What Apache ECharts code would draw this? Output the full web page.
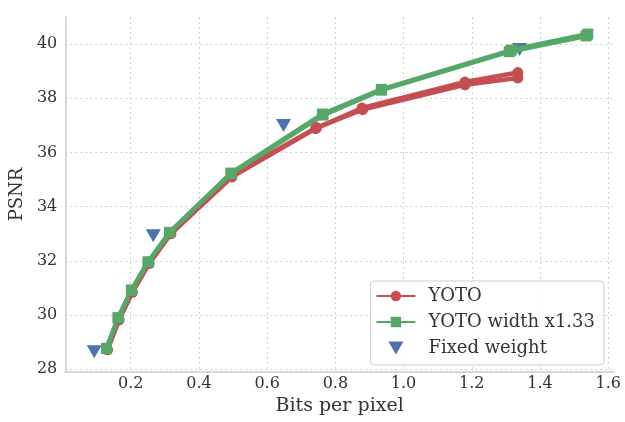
<!DOCTYPE html>
<html>
<head>
<meta charset="utf-8">
<title>PSNR vs bpp</title>
<script src="https://cdn.jsdelivr.net/npm/echarts@6/dist/echarts.min.js"></script>
<style>
    html, body { margin: 0; padding: 0; background: #fff; }
    #chart { width: 625px; height: 422px; }
</style>
</head>
<body>
<div id="chart"></div>
<script>
// 数据（从图上读出来的）
const yotoRunA = [[0.132, 28.72], [0.166, 29.82], [0.205, 30.84], [0.254, 31.9], [0.318, 33.0], [0.497, 35.1], [0.742, 36.88], [0.878, 37.64], [1.18, 38.6], [1.335, 38.95]];
const yotoRunB = [[0.13, 28.75], [0.164, 29.85], [0.203, 30.86], [0.252, 31.93], [0.316, 33.02], [0.495, 35.14], [0.745, 36.92], [0.88, 37.58], [1.18, 38.5], [1.335, 38.75]];
const wideRunA = [[0.129, 28.77], [0.163, 29.9], [0.202, 30.92], [0.251, 31.96], [0.314, 33.05], [0.494, 35.24], [0.762, 37.42], [0.935, 38.33], [1.316, 39.78], [1.54, 40.37]];
const wideRunB = [[0.129, 28.77], [0.163, 29.9], [0.202, 30.92], [0.251, 31.96], [0.314, 33.05], [0.494, 35.22], [0.764, 37.38], [0.935, 38.3], [1.31, 39.72], [1.535, 40.3]];
const fixedWeight = [[0.093, 28.65], [0.266, 32.93], [0.648, 37.0], [1.34, 39.8]];

const xTicks = [0.2, 0.4, 0.6, 0.8, 1.0, 1.2, 1.4, 1.6];
const yTicks = [28, 30, 32, 34, 36, 38, 40];

const RED = '#C44E52';
const GREEN = '#55A868';
const BLUE = '#4C72B0';
const FONT = 'DejaVu Serif';
const TRIANGLE = 'path://M0,0L14,0L7,12Z';

const chart = echarts.init(document.getElementById('chart'));

function lineSeries(name, data, color, symbol, size) {
    return {
        name: name,
        type: 'line',
        data: data,
        symbol: symbol,
        symbolSize: size,
        itemStyle: { color: color, opacity: 1 },
        lineStyle: { color: color, width: 4.5 },
        emphasis: { disabled: true },
        animation: false
    };
}

const option = {
    backgroundColor: '#fff',
    animation: false,
    grid: { left: 63, right: 11, top: 17, bottom: 50 },
    xAxis: {
        type: 'value',
        min: 0.008,
        max: 1.617,
        name: 'Bits per pixel',
        nameLocation: 'middle',
        nameGap: 22,
        nameTextStyle: { fontFamily: FONT, fontSize: 19, color: '#333' },
        axisLine: { show: true, lineStyle: { color: '#cccccc', width: 1.5 } },
        axisTick: { show: false, customValues: xTicks },
        axisLabel: {
            customValues: xTicks,
            fontFamily: FONT, fontSize: 16, color: '#333', margin: 4,
            formatter: v => v.toFixed(1)
        },
        splitLine: { show: true, lineStyle: { color: '#d0d0d0', type: [2, 3], width: 1 } }
    },
    yAxis: {
        type: 'value',
        min: 27.9,
        max: 41.0,
        name: 'PSNR',
        nameLocation: 'middle',
        nameGap: 34,
        nameTextStyle: { fontFamily: FONT, fontSize: 18, color: '#333' },
        axisLine: { show: true, lineStyle: { color: '#cccccc', width: 1.5 } },
        axisTick: { show: false, customValues: yTicks },
        axisLabel: {
            customValues: yTicks,
            fontFamily: FONT, fontSize: 16, color: '#333', margin: 8
        },
        splitLine: { show: true, lineStyle: { color: '#d0d0d0', type: [2, 3], width: 1 } }
    },
    legend: {
        orient: 'vertical',
        right: 21,
        bottom: 57,
        data: ['YOTO', 'YOTO width x1.33', 'Fixed weight'],
        itemWidth: 39,
        itemHeight: 13,
        itemGap: 8,
        padding: [6, 9, 8, 5],
        backgroundColor: 'rgba(255,255,255,0.85)',
        borderColor: '#cccccc',
        borderWidth: 1,
        borderRadius: 4,
        textStyle: { fontFamily: FONT, fontSize: 18, color: '#333', padding: [0, 0, 0, 8] }
    },
    series: [
        {
            name: 'Fixed weight',
            type: 'scatter',
            data: fixedWeight,
            symbol: TRIANGLE,
            symbolSize: [15, 13],
            itemStyle: { color: BLUE, opacity: 1 },
            emphasis: { disabled: true },
            animation: false
        },
        lineSeries('YOTO', yotoRunA, RED, 'circle', 11),
        lineSeries('YOTO', yotoRunB, RED, 'circle', 11),
        lineSeries('YOTO width x1.33', wideRunA, GREEN, 'rect', 11),
        lineSeries('YOTO width x1.33', wideRunB, GREEN, 'rect', 11)
    ]
};

chart.setOption(option);
</script>
</body>
</html>
